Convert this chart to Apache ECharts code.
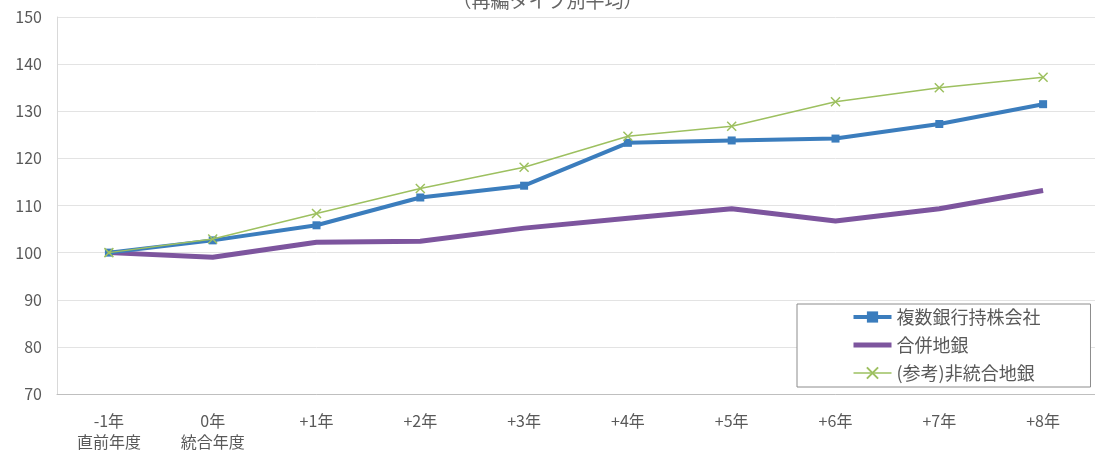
<!DOCTYPE html>
<html>
<head>
<meta charset="utf-8">
<script src="https://cdn.jsdelivr.net/npm/echarts@6/dist/echarts.min.js"></script>
<style>
  html, body { margin: 0; padding: 0; background: #fff; }
  #chart { width: 1095px; height: 452px; }
</style>
</head>
<body>
<div id="chart"></div>
<script>
// Categories: years relative to the integration year
const categories = ['-1年\n直前年度', '0年\n統合年度', '+1年', '+2年', '+3年', '+4年', '+5年', '+6年', '+7年', '+8年'];

// Index values (直前年度 = 100)
const holdingCompany = [100, 102.6, 105.8, 111.7, 114.2, 123.3, 123.8, 124.2, 127.3, 131.5];
const mergedBanks = [100, 99.0, 102.2, 102.4, 105.2, 107.3, 109.3, 106.7, 109.3, 113.2];
const nonIntegrated = [100, 102.9, 108.3, 113.6, 118.1, 124.7, 126.8, 132.0, 135.0, 137.2];

const seriesNames = ['複数銀行持株会社', '合併地銀', '(参考)非統合地銀'];
const yTicks = { min: 70, max: 150, interval: 10 };

const colors = { holding: '#3b7dbd', merged: '#7d559e', other: '#9dc060' };
const font = '"Noto Sans CJK JP", "Noto Sans", sans-serif';
const chart = echarts.init(document.getElementById('chart'));

chart.setOption({
  backgroundColor: '#ffffff',
  animation: false,
  textStyle: { fontFamily: font },
  title: {
    text: '（再編タイプ別平均）',
    left: 'center',
    top: -14,
    textStyle: { fontFamily: font, fontSize: 19, fontWeight: 'normal', color: '#666666' }
  },
  grid: { left: 57, top: 17, width: 1056, height: 379, containLabel: false },
  legend: {
    orient: 'vertical',
    left: 797,
    top: 304,
    padding: [4, 50, 5, 54],
    itemGap: 10,
    itemWidth: 38,
    itemHeight: 14,
    backgroundColor: '#ffffff',
    borderColor: '#8c8c8c',
    borderWidth: 1,
    textStyle: { fontFamily: font, fontSize: 18, lineHeight: 18, color: '#595959' },
    data: [
      { name: seriesNames[0], lineStyle: { width: 4 } },
      { name: seriesNames[1], lineStyle: { width: 5 }, itemStyle: { opacity: 0 } },
      { name: seriesNames[2], lineStyle: { width: 1.5 } }
    ]
  },
  xAxis: {
    type: 'category',
    data: categories,
    boundaryGap: true,
    axisLine: { lineStyle: { color: '#bfbfbf', width: 1 } },
    axisTick: { show: false },
    axisLabel: { color: '#595959', fontSize: 16, lineHeight: 21, margin: 16, fontFamily: font }
  },
  yAxis: {
    type: 'value',
    min: yTicks.min,
    max: yTicks.max,
    interval: yTicks.interval,
    axisLine: { show: true, lineStyle: { color: '#d9d9d9' } },
    axisTick: { show: false },
    splitLine: { lineStyle: { color: '#e3e3e3', width: 1 } },
    axisLabel: { color: '#595959', fontSize: 16, margin: 15, fontFamily: font }
  },
  series: [
    {
      name: seriesNames[0],
      type: 'line',
      data: holdingCompany,
      symbol: 'rect',
      symbolSize: 8,
      lineStyle: { color: colors.holding, width: 4 },
      itemStyle: { color: colors.holding },
      z: 3
    },
    {
      name: seriesNames[1],
      type: 'line',
      data: mergedBanks,
      symbol: 'none',
      lineStyle: { color: colors.merged, width: 5 },
      itemStyle: { color: colors.merged },
      z: 2
    },
    {
      name: seriesNames[2],
      type: 'line',
      data: nonIntegrated,
      symbol: 'path://M0,0L10,10M10,0L0,10',
      symbolSize: 9,
      lineStyle: { color: colors.other, width: 1.5 },
      itemStyle: { color: 'rgba(0,0,0,0)', borderColor: colors.other, borderWidth: 1.5 },
      z: 4
    }
  ]
});
</script>
</body>
</html>
